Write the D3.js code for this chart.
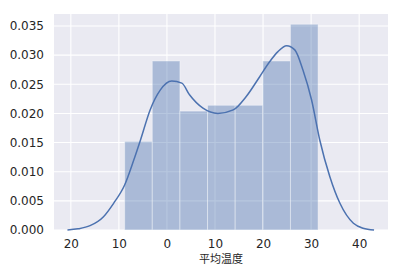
<!DOCTYPE html>
<html>
<head>
<meta charset="utf-8">
<script src="https://cdn.jsdelivr.net/npm/d3@7"></script>
<style>
  body { margin: 0; background: #fff; }
  .tick text { font-family: "DejaVu Sans", sans-serif; font-size: 12px; fill: #262626; }
  .xlabel { font-family: "Noto Sans CJK SC", sans-serif; font-size: 11px; fill: #262626; }
</style>
</head>
<body>
<svg class="chart"></svg>
<script>
// histogram bin edges (7 bins) and densities
var binEdges = [-8.8, -3.05, 2.7, 8.45, 14.2, 19.95, 25.7, 31.45];
var binDensity = [0.0152, 0.0290, 0.0204, 0.0214, 0.0214, 0.0290, 0.0353];

// kde curve
var kdeX = [-20.7, -18.5, -16.0, -13.2, -11.1, -8.8, -6.9, -5.5, -3.5, -1.4, 1.0, 3.1, 4.7, 7.5, 10.6, 13.8, 16.5, 19.3, 21.4, 23.1, 24.9, 26.6, 28.3, 30.1, 31.8, 33.9, 36.0, 38.8, 40.8, 43.1];
var kdeY = [0.0, 0.0002, 0.00074, 0.00228, 0.00458, 0.00772, 0.0120, 0.01544, 0.0206, 0.0240, 0.02556, 0.0252, 0.0232, 0.0209, 0.0200, 0.0206, 0.0229, 0.0263, 0.0289, 0.0306, 0.0316, 0.0309, 0.02745, 0.0223, 0.01544, 0.00914, 0.00458, 0.00115, 0.0003, 0.0];

var xTicks = [-20, -10, 0, 10, 20, 30, 40];
var yTicks = [0, 0.005, 0.010, 0.015, 0.020, 0.025, 0.030, 0.035];
var xTitle = "平均温度";

var margin = {top: 14, right: 13, bottom: 40, left: 54},
    width = 401 - margin.left - margin.right,
    height = 270 - margin.top - margin.bottom;

var x = d3.scaleLinear()
    .domain([-23.5, 46.0])
    .range([0, width]);

var y = d3.scaleLinear()
    .domain([0, 0.03706])
    .range([height, 0]);

var svg = d3.select(".chart")
    .attr("width", 401)
    .attr("height", 270);

var chart = svg.append("g")
    .attr("transform", "translate(" + margin.left + "," + margin.top + ")");

chart.append("rect")
    .attr("width", width)
    .attr("height", height)
    .attr("fill", "#eaeaf2");

// grid
chart.append("g")
    .selectAll("line.gx")
    .data(xTicks)
  .enter().append("line")
    .attr("x1", function(d) { return x(d); })
    .attr("x2", function(d) { return x(d); })
    .attr("y1", 0)
    .attr("y2", height)
    .attr("stroke", "#fff")
    .attr("stroke-width", 1.1);

chart.append("g")
    .selectAll("line.gy")
    .data(yTicks)
  .enter().append("line")
    .attr("x1", 0)
    .attr("x2", width)
    .attr("y1", function(d) { return y(d); })
    .attr("y2", function(d) { return y(d); })
    .attr("stroke", "#fff")
    .attr("stroke-width", 1.1);

// bars
chart.append("g")
    .selectAll("rect")
    .data(binDensity)
  .enter().append("rect")
    .attr("x", function(d, i) { return x(binEdges[i]); })
    .attr("y", function(d) { return y(d); })
    .attr("width", function(d, i) { return x(binEdges[i + 1]) - x(binEdges[i]); })
    .attr("height", function(d) { return y(0) - y(d); })
    .attr("fill", "#4c72b0")
    .attr("fill-opacity", 0.4)
    .attr("stroke", "#fff")
    .attr("stroke-opacity", 0.4)
    .attr("stroke-width", 1);

// kde line
var line = d3.line()
    .x(function(d) { return x(d[0]); })
    .y(function(d) { return y(d[1]); })
    .curve(d3.curveMonotoneX);

chart.append("path")
    .datum(d3.zip(kdeX, kdeY))
    .attr("d", line)
    .attr("fill", "none")
    .attr("stroke", "#4c72b0")
    .attr("stroke-width", 1.5);

// axes (minus sign is missing in the original font)
var xAxis = d3.axisBottom(x)
    .tickValues(xTicks)
    .tickSize(0)
    .tickPadding(9)
    .tickFormat(function(d) { return Math.abs(d); });

var yAxis = d3.axisLeft(y)
    .tickValues(yTicks)
    .tickSize(0)
    .tickPadding(10)
    .tickFormat(d3.format(".3f"));

chart.append("g")
    .attr("transform", "translate(0," + height + ")")
    .call(xAxis)
    .call(function(g) { g.select(".domain").remove(); });

chart.append("g")
    .call(yAxis)
    .call(function(g) { g.select(".domain").remove(); });

chart.append("text")
    .attr("class", "xlabel")
    .attr("x", width / 2)
    .attr("y", height + 33)
    .attr("text-anchor", "middle")
    .text(xTitle);
</script>
</body>
</html>
